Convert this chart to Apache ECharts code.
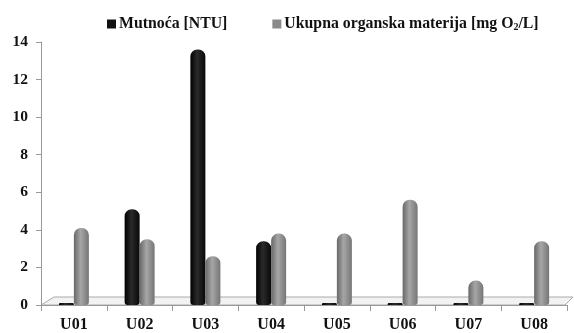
<!DOCTYPE html>
<html>
<head>
<meta charset="utf-8">
<script src="https://cdn.jsdelivr.net/npm/echarts@6/dist/echarts.min.js"></script>
<style>
  html, body { margin: 0; padding: 0; background: #fff; }
  #chart { width: 574px; height: 333px; }
</style>
</head>
<body>
<div id="chart"></div>
<script>
// Sampling sites and measured values
const categories = ['U01', 'U02', 'U03', 'U04', 'U05', 'U06', 'U07', 'U08'];
const turbidity = [0, 5.1, 13.6, 3.4, 0, 0, 0, 0];              // Mutnoća [NTU]
const organicMatter = [4.1, 3.5, 2.6, 3.8, 3.8, 5.6, 1.3, 3.4];  // Ukupna organska materija [mg O2/L]
const yTicks = [0, 2, 4, 6, 8, 10, 12, 14];

const fontFamily = '"Liberation Serif", "Times New Roman", serif';

function cylinder(dark, mid, light) {
  return new echarts.graphic.LinearGradient(0, 0, 1, 0, [
    { offset: 0, color: dark },
    { offset: 0.45, color: light },
    { offset: 1, color: mid }
  ]);
}

const chart = echarts.init(document.getElementById('chart'));
chart.setOption({
  animation: false,
  backgroundColor: '#ffffff',
  textStyle: { fontFamily: fontFamily },
  legend: {
    top: 11,
    left: 102,
    itemGap: 45,
    itemWidth: 9,
    itemHeight: 9,
    icon: 'rect',
    textStyle: {
      fontFamily: fontFamily, fontWeight: 'bold', fontSize: 15.8, color: '#111', padding: [0, 0, 0, -2],
      rich: { sub: { fontSize: 10, fontWeight: 'bold', fontFamily: fontFamily, color: '#111', verticalAlign: 'bottom', padding: [7, 0, 0, 0] } }
    },
    data: [
      { name: 'Mutnoća [NTU]', itemStyle: { color: '#111' } },
      { name: 'Ukupna organska materija [mg O2/L]', itemStyle: { color: '#8a8a8a' } }
    ],
    formatter: function (n) {
      return n.indexOf('O2') >= 0 ? 'Ukupna organska materija [mg O{sub|2}/L]' : n;
    }
  },
  grid: { left: 41, right: 7, top: 42, bottom: 27, containLabel: false },
  xAxis: {
    type: 'category',
    data: categories,
    axisLine: { lineStyle: { color: '#999', width: 1 } },
    axisTick: { show: true, length: 6, lineStyle: { color: '#999' } },
    axisLabel: { fontFamily: fontFamily, fontWeight: 'bold', fontSize: 16, color: '#111', margin: 12 }
  },
  yAxis: {
    type: 'value',
    min: 0,
    max: 14,
    interval: 2,
    axisLine: { show: true, lineStyle: { color: '#999' } },
    axisTick: { show: true, length: 5, lineStyle: { color: '#999' } },
    splitLine: { show: false },
    axisLabel: {
      fontFamily: fontFamily, fontWeight: 'bold', fontSize: 15.5, color: '#111', margin: 13,
      formatter: function (v) { return yTicks.indexOf(v) >= 0 ? String(v) : ''; }
    }
  },
  series: [
    {
      name: 'Mutnoća [NTU]',
      type: 'bar',
      data: turbidity,
      barWidth: 15,
      barGap: '0%',
      barMinHeight: 2,
      z: 3,
      itemStyle: {
        color: cylinder('#000', '#080808', '#2a2a2a'),
        borderRadius: [7, 7, 3, 3]
      }
    },
    {
      name: 'Ukupna organska materija [mg O2/L]',
      type: 'bar',
      data: organicMatter,
      barWidth: 15,
      barMinHeight: 2,
      z: 3,
      itemStyle: {
        color: cylinder('#686868', '#767676', '#a6a6a6'),
        borderRadius: [7, 7, 3, 3]
      }
    }
  ]
});

// Thin perspective floor under the bars, placed through the axis scales
function drawFloor() {
  const p0 = chart.convertToPixel({ gridIndex: 0 }, [0, 0]);
  const left = 41, right = 574 - 7;
  const y = p0[1];
  chart.setOption({
    graphic: [{
      type: 'polygon',
      z: 0,
      silent: true,
      shape: { points: [[left, y], [left + 13, y - 8], [right + 6, y - 8], [right - 2, y]] },
      style: { fill: '#f2f2f2', stroke: '#aaa', lineWidth: 1 }
    }]
  });
}
drawFloor();
</script>
</body>
</html>
